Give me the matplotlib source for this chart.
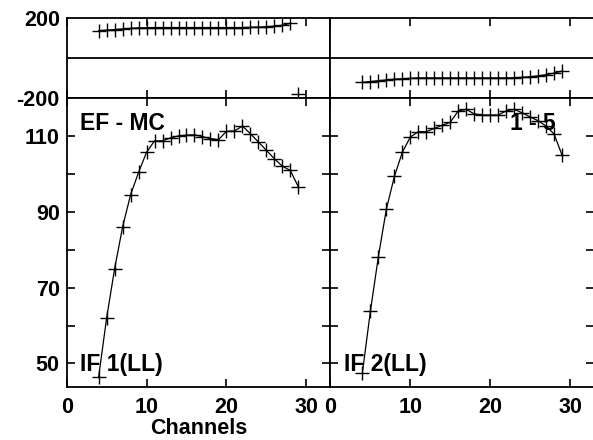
import numpy as np
import matplotlib
matplotlib.use("Agg")
import matplotlib.pyplot as plt

plt.rcParams['font.family'] = ['Liberation Sans', 'DejaVu Sans']
plt.rcParams['font.weight'] = 'bold'
plt.rcParams['axes.unicode_minus'] = False

channels = list(range(4, 30))

ef_mc_phase = [135, 138, 141, 144, 147, 149, 150, 151, 151, 151, 151, 151, 151,
               151, 151, 151, 151, 151, 151, 152, 153, 155, 158, 162, 172, -180]
ef_mc_amp = [46.5, 62, 75, 86, 94.5, 100.4, 105.7, 108.7, 108.7, 109.5, 110, 110.2,
             110.3, 109.8, 109.3, 109.0, 111.2, 111.3, 112.6, 110.6, 108.4, 106.2,
             104, 102, 100.9, 96.6]

one_five_phase = [-122, -118, -114, -110, -106, -104, -102, -100, -100, -100, -100,
                  -100, -100, -100, -100, -100, -100, -100, -100, -99, -97, -94,
                  -90, -84, -76, -66]
one_five_amp = [47.6, 63.8, 78.2, 90.7, 99.3, 105.7, 109.7, 111.1, 111.1, 112, 112.8,
                113.6, 116.6, 117, 115.8, 115.5, 115.5, 115.5, 116.6, 117, 116.1, 115,
                114, 112.6, 110.5, 104.9]

x_ticks = [0, 10, 20, 30]
phase_ticks = [-200, 200]
amp_ticks = [50, 70, 90, 110]
amp_minor = [60, 80, 100]

fig = plt.figure(figsize=(5.93, 4.40), dpi=100)

W = 0.4444
lefts = [0.1125, 0.5573]
top_b, top_h = 0.7773, 0.1825
bot_b, bot_h = 0.1205, 0.6568

panels = [
    (ef_mc_phase, ef_mc_amp, "EF - MC", "IF 1(LL)"),
    (one_five_phase, one_five_amp, "1 - 5", "IF 2(LL)"),
]
rel_x = [1.7, 22.5]

for i, (ph, amp, lab, iflab) in enumerate(panels):
    axp = fig.add_axes([lefts[i], top_b, W, top_h])
    axa = fig.add_axes([lefts[i], bot_b, W, bot_h])
    for ax in (axp, axa):
        ax.set_xlim(0, 33)
        ax.set_xticks(x_ticks)
        for s in ax.spines.values():
            s.set_linewidth(1.3)
        ax.tick_params(direction='in', length=6, width=1.2, top=True, right=True,
                       labelsize=15.5, pad=5)
    # phase panel
    ph_arr = np.array(ph, dtype=float)
    ph_line = ph_arr.copy()
    ph_line[np.abs(np.diff(np.r_[ph_arr[0], ph_arr])) > 180] = np.nan
    axp.plot(channels, ph_line, color='black', lw=0.9)
    axp.plot(channels, ph_arr, ls='none', marker='+', ms=10, mew=1.0, color='black')
    axp.axhline(0, color='black', lw=1.3)
    axp.set_ylim(-200, 200)
    axp.set_yticks(phase_ticks)
    axp.tick_params(axis='y', length=0)
    axp.tick_params(labelbottom=False)
    # amplitude panel
    axa.plot(channels, amp, color='black', lw=0.9, marker='+', ms=10, mew=1.0)
    axa.set_ylim(43.8, 120)
    axa.set_yticks(amp_ticks)
    axa.set_yticks(amp_minor, minor=True)
    axa.tick_params(axis='y', which='minor', direction='in', length=6, width=1.2, right=True)
    axa.tick_params(axis='x', pad=7)
    if i == 1:
        axp.tick_params(labelleft=False)
        axa.tick_params(labelleft=False)
    else:
        axa.set_xlabel("Channels", fontsize=15.5, fontweight='bold', labelpad=0)
    axa.text(rel_x[i], 113.4, lab, fontsize=16.5, fontweight='bold', ha='left', va='center')
    axa.text(1.7, 49.7, iflab, fontsize=16.5, fontweight='bold', ha='left', va='center')
    for t in axp.get_yticklabels() + axa.get_yticklabels() + axa.get_xticklabels():
        t.set_fontweight('bold')

fig.savefig("out.png", dpi=100)
